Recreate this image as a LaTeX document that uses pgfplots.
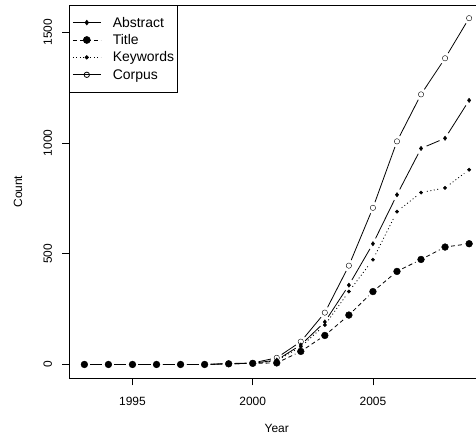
\documentclass[border=0pt]{standalone}
\usepackage{pgfplots}
\pgfplotsset{compat=1.18}
\usepackage{pgfplotstable}
\usepackage{fontspec}
\setmainfont{Liberation Sans}
% values
\pgfplotstableread{
Year Abstract Title Keywords Corpus
1993 0 0 0 0
1994 0 0 0 0
1995 0 0 0 0
1996 0 0 0 0
1997 0 0 0 0
1998 0 0 0 0
1999 3 3 3 4
2000 5 5 5 7
2001 20 7 17 30
2002 88 59 80 103
2003 192 131 178 234
2004 358 223 329 446
2005 545 329 473 707
2006 766 420 690 1007
2007 975 474 776 1219
2008 1021 530 797 1382
2009 1192 545 879 1563
}\datatable
% one line segment between two consecutive years (R type="b": gap round each point)
\newcommand\oneseg[4]{\addplot[#1, forget plot, restrict x to domain=#3:#4] table[x=Year,y=#2]{\datatable};}
\newcommand\allsegs[2]{%
  \oneseg{#1}{#2}{1993}{1994}\oneseg{#1}{#2}{1994}{1995}\oneseg{#1}{#2}{1995}{1996}\oneseg{#1}{#2}{1996}{1997}%
  \oneseg{#1}{#2}{1997}{1998}\oneseg{#1}{#2}{1998}{1999}\oneseg{#1}{#2}{1999}{2000}\oneseg{#1}{#2}{2000}{2001}%
  \oneseg{#1}{#2}{2001}{2002}\oneseg{#1}{#2}{2002}{2003}\oneseg{#1}{#2}{2003}{2004}\oneseg{#1}{#2}{2004}{2005}%
  \oneseg{#1}{#2}{2005}{2006}\oneseg{#1}{#2}{2006}{2007}\oneseg{#1}{#2}{2007}{2008}\oneseg{#1}{#2}{2008}{2009}}
\begin{document}
\begin{tikzpicture}
\useasboundingbox (-69bp,-58.7bp) rectangle (407bp,378.3bp);
\clip (-69bp,-58.7bp) rectangle (407bp,378.3bp);
\begin{axis}[
  at={(0,0)}, anchor=south west,
  scale only axis, width=415.5bp, height=373.3bp,
  xmin=1992.36, xmax=2009.64, ymin=-62.4, ymax=1622.4,
  axis line style={line width=0.8bp},
  xtick={1995,2000,2005}, ytick={0,500,1000,1500},
  xtick pos=bottom, ytick pos=left,
  tick align=outside, major tick length=7bp,
  tick style={line width=0.8bp, black},
  /pgf/number format/assume math mode=true,
  /pgf/number format/1000 sep={},
  ticklabel style={font=\fontsize{12}{14}\selectfont},
  xticklabel style={anchor=north, yshift=-8bp},
  yticklabel style={xshift=-6.5bp, rotate=90, anchor=south},
  xlabel={Year}, ylabel={Count},
  label style={font=\fontsize{12}{14}\selectfont},
  every axis x label/.style={at={(axis description cs:0.5,0)}, yshift=-50bp, anchor=center, font=\fontsize{12}{14}\selectfont},
  every axis y label/.style={at={(axis description cs:0,0.5)}, xshift=-51bp, rotate=90, anchor=center, font=\fontsize{12}{14}\selectfont},
  legend style={at={(0,1)}, anchor=north west, draw=black, line width=0.8bp,
    inner xsep=3bp, inner ysep=8.5bp, row sep=0pt, column sep=0pt,
    nodes={inner ysep=2.2bp, inner xsep=0bp, text height=11bp, text depth=2bp, font=\fontsize{14}{16}\selectfont}},
  legend cell align=left,
  legend image code/.code={\draw[mark repeat=2,mark phase=2] plot coordinates {(0bp,0bp) (14bp,0bp) (28bp,0bp)};
    \path[draw=none,fill=none] (28bp,0bp) -- (40bp,0bp);},
  segA/.style={black, line width=0.8bp, shorten <=6bp, shorten >=6bp},
  segT/.style={black, line width=0.8bp, dash pattern=on 4bp off 3bp, shorten <=6bp, shorten >=6bp},
  segK/.style={black, line width=0.8bp, dash pattern=on 1bp off 2.5bp, shorten <=6bp, shorten >=6bp},
  segC/.style={black, line width=0.8bp, shorten <=6bp, shorten >=6bp},
  pts/.style={black, only marks, forget plot, mark options={solid}},
]
\addlegendimage{black, line width=0.8bp, mark=diamond*, mark size=2.2bp, mark options={solid}}
\addlegendentry{Abstract}
\addlegendimage{black, line width=0.8bp, dash pattern=on 4bp off 3bp, mark=*, mark size=3.4bp, mark options={solid}}
\addlegendentry{Title}
\addlegendimage{black, line width=0.8bp, dash pattern=on 1bp off 2.5bp, mark=*, mark size=1.7bp, mark options={solid}}
\addlegendentry{Keywords}
\addlegendimage{black, line width=0.8bp, mark=o, mark size=2.7bp, mark options={solid, fill=white}}
\addlegendentry{Corpus}
% Abstract
\allsegs{segA}{Abstract}
\addplot[pts, mark=diamond*, mark size=2.2bp] table[x=Year,y=Abstract]{\datatable};
% Title
\allsegs{segT}{Title}
\addplot[pts, mark=*, mark size=3.4bp] table[x=Year,y=Title]{\datatable};
% Keywords
\allsegs{segK}{Keywords}
\addplot[pts, mark=*, mark size=1.7bp] table[x=Year,y=Keywords]{\datatable};
% Corpus
\allsegs{segC}{Corpus}
\addplot[pts, mark=o, mark size=2.7bp, mark options={fill=white}] table[x=Year,y=Corpus]{\datatable};
\end{axis}
\end{tikzpicture}
\end{document}
